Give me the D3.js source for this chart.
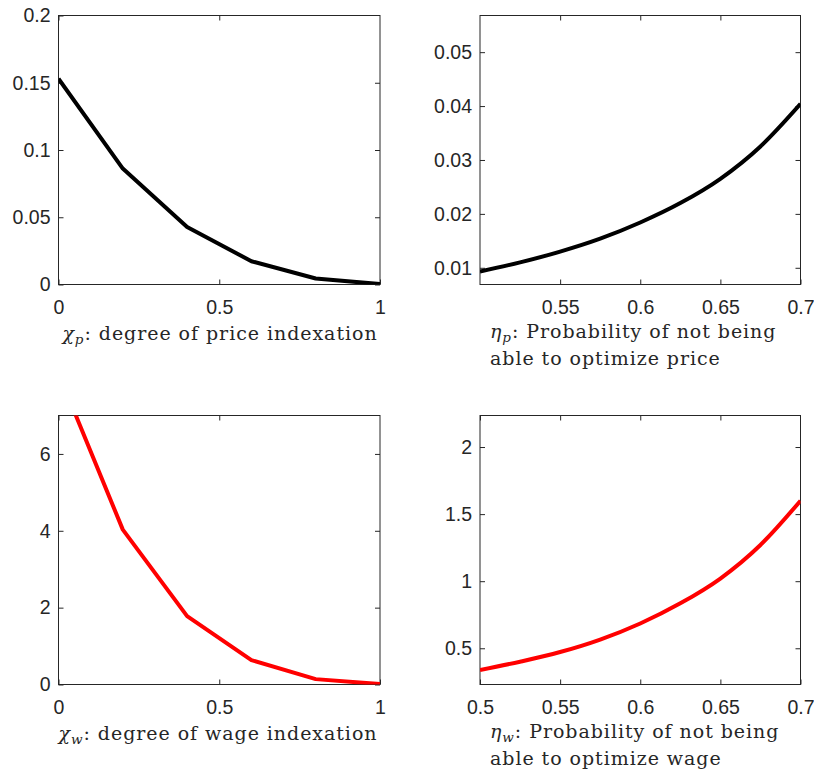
<!DOCTYPE html>
<html>
<head>
<meta charset="utf-8">
<script src="https://cdn.jsdelivr.net/npm/d3@7"></script>
<style>
  html, body { margin: 0; padding: 0; background: #fff; }
  svg { display: block; }
  .tick text { font-family: "Liberation Sans", Arial, sans-serif; font-size: 19.5px; fill: #262626; }
  .xlab { font-family: "DejaVu Serif", serif; font-size: 19px; letter-spacing: 0.95px; fill: #262626; }
</style>
</head>
<body>
<script>
// ---- data ----
const indexGrid = [0, 0.2, 0.4, 0.6, 0.8, 1];
const priceByPriceIndexation = [0.153, 0.0862, 0.0428, 0.0173, 0.0045, 0.0003];
const wageByWageIndexation = [8.1, 4.03, 1.78, 0.634, 0.14, 0.01];

const calvoGrid = [0.5, 0.525, 0.55, 0.575, 0.6, 0.625, 0.65, 0.675, 0.7];
const priceByCalvo = [0.0093, 0.0110, 0.0130, 0.0154, 0.0184, 0.0220, 0.0265, 0.0325, 0.0404];
const wageByCalvo = [0.338, 0.400, 0.472, 0.565, 0.685, 0.835, 1.02, 1.27, 1.60];

const ticksIndexX = [0, 0.5, 1];
const ticksCalvoXTop = [0.55, 0.6, 0.65, 0.7];
const ticksCalvoXBottom = [0.5, 0.55, 0.6, 0.65, 0.7];
const ticksPriceIdxY = [0, 0.05, 0.1, 0.15, 0.2];
const ticksPriceCalvoY = [0.01, 0.02, 0.03, 0.04, 0.05];
const ticksWageIdxY = [0, 2, 4, 6];
const ticksWageCalvoY = [0.5, 1, 1.5, 2];

const W = 814, H = 771;
const svg = d3.select("body").append("svg").attr("width", W).attr("height", H);

const panels = [
  { id: "a", box: [58.5, 380, 15.5, 284.5], xd: [0, 1], yd: [0, 0.2], xs: indexGrid, ys: priceByPriceIndexation,
    xt: ticksIndexX, yt: ticksPriceIdxY, color: "#000", curve: d3.curveLinear,
    fmtX: d => d3.format("~g")(d), fmtY: d => d3.format("~g")(d),
    label: [{sym: "χ", sub: "p", rest: ": degree of price indexation"}], labelX: 220, labelY: 340, anchor: "middle" },
  { id: "b", box: [480, 800.5, 15.5, 284.5], xd: [0.5, 0.7], yd: [0.0069, 0.0568], xs: calvoGrid, ys: priceByCalvo,
    xt: ticksCalvoXTop, yt: ticksPriceCalvoY, color: "#000", curve: d3.curveMonotoneX,
    fmtX: d => d3.format("~g")(d), fmtY: d => d3.format(".2f")(d),
    label: [{sym: "η", sub: "p", rest: ": Probability of not being"}, {rest: "able to optimize price"}], labelX: 490, labelY: 338, anchor: "start" },
  { id: "c", box: [58.5, 380, 415.5, 684.5], xd: [0, 1], yd: [0, 7], xs: indexGrid, ys: wageByWageIndexation,
    xt: ticksIndexX, yt: ticksWageIdxY, color: "#ff0000", curve: d3.curveLinear,
    fmtX: d => d3.format("~g")(d), fmtY: d => d3.format("~g")(d),
    label: [{sym: "χ", sub: "w", rest: ": degree of wage indexation"}], labelX: 218, labelY: 740, anchor: "middle" },
  { id: "d", box: [480, 800.5, 415.5, 684.5], xd: [0.5, 0.7], yd: [0.230, 2.235], xs: calvoGrid, ys: wageByCalvo,
    xt: ticksCalvoXBottom, yt: ticksWageCalvoY, color: "#ff0000", curve: d3.curveMonotoneX,
    fmtX: d => d3.format("~g")(d), fmtY: d => d3.format("~g")(d),
    label: [{sym: "η", sub: "w", rest: ": Probability of not being"}, {rest: "able to optimize wage"}], labelX: 490, labelY: 738, anchor: "start" }
];

const axisColor = "#262626";
const tickLen = 5;

panels.forEach(p => {
  const [x0, x1, y0, y1] = p.box;
  const x = d3.scaleLinear().domain(p.xd).range([x0, x1]);
  const y = d3.scaleLinear().domain(p.yd).range([y1, y0]);
  const g = svg.append("g");

  g.append("clipPath").attr("id", "clip-" + p.id)
    .append("rect").attr("x", x0).attr("y", y0).attr("width", x1 - x0).attr("height", y1 - y0);

  const ax = g.append("g").attr("transform", `translate(0,${y1})`)
    .call(d3.axisBottom(x).tickValues(p.xt).tickSizeInner(-tickLen).tickSizeOuter(0).tickPadding(16).tickFormat(p.fmtX));
  const axTop = g.append("g").attr("transform", `translate(0,${y0})`)
    .call(d3.axisTop(x).tickValues(p.xt).tickSizeInner(-tickLen).tickSizeOuter(0).tickFormat(""));
  const ay = g.append("g").attr("transform", `translate(${x0},0)`)
    .call(d3.axisLeft(y).tickValues(p.yt).tickSizeInner(-tickLen).tickSizeOuter(0).tickPadding(8).tickFormat(p.fmtY));
  const ayR = g.append("g").attr("transform", `translate(${x1},0)`)
    .call(d3.axisRight(y).tickValues(p.yt).tickSizeInner(-tickLen).tickSizeOuter(0).tickFormat(""));

  [ax, axTop, ay, ayR].forEach(a => {
    a.select(".domain").remove();
    a.selectAll(".tick line").attr("stroke", axisColor).attr("stroke-width", 1);
  });
  axTop.selectAll(".tick").filter(d => Math.abs(x(d) - x1) < 1).remove();
  ayR.selectAll(".tick").filter(d => Math.abs(y(d) - y0) < 1).remove();
  ax.selectAll(".tick text").attr("dy", "0.71em");

  g.append("rect").attr("x", x0).attr("y", y0).attr("width", x1 - x0).attr("height", y1 - y0)
    .attr("fill", "none").attr("stroke", axisColor).attr("stroke-width", 1);

  const line = d3.line().x(d => x(d[0])).y(d => y(d[1])).curve(p.curve);
  g.append("path").datum(d3.zip(p.xs, p.ys))
    .attr("clip-path", `url(#clip-${p.id})`)
    .attr("fill", "none").attr("stroke", p.color).attr("stroke-width", 4)
    .attr("stroke-linejoin", "round").attr("d", line);

  p.label.forEach((ln, i) => {
    const t = g.append("text").attr("class", "xlab")
      .attr("x", p.labelX).attr("y", p.labelY + i * 27).attr("text-anchor", p.anchor);
    if (ln.sym) {
      t.append("tspan").attr("font-style", "italic").text(ln.sym);
      t.append("tspan").attr("font-style", "italic").attr("font-size", "13.5px").attr("dy", 4).text(ln.sub);
      t.append("tspan").attr("dy", -4).text(ln.rest);
    } else {
      t.append("tspan").text(ln.rest);
    }
  });
});
</script>
</body>
</html>
